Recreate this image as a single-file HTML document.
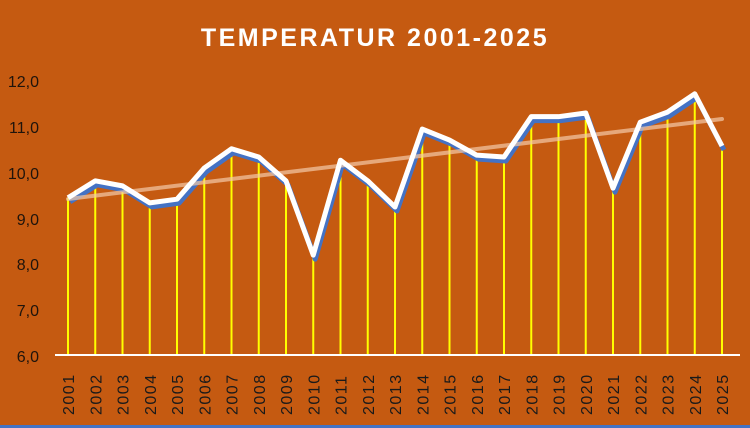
<!DOCTYPE html>
<html><head><style>body{margin:0}svg{display:block}</style></head><body>
<svg width="750" height="428" xmlns="http://www.w3.org/2000/svg" font-family="Liberation Sans, sans-serif">
<rect width="750" height="428" fill="#C55A11"/>
<rect y="425" width="750" height="3" fill="#4472C4"/>
<text x="375" y="46" text-anchor="middle" fill="#fff" font-size="25" font-weight="bold" letter-spacing="2.5">TEMPERATUR 2001-2025</text>
<g fill="#1f140c" font-size="16" text-anchor="end">
<text x="39" y="87">12,0</text><text x="39" y="133">11,0</text><text x="39" y="179">10,0</text><text x="39" y="225">9,0</text><text x="39" y="270">8,0</text><text x="39" y="316">7,0</text><text x="39" y="362">6,0</text>
</g>
<g id="d"></g>
<line x1="55" y1="355" x2="740" y2="355" stroke="#fff" stroke-width="2"/>
<script>
var v=[9.43,9.8,9.69,9.32,9.4,10.08,10.5,10.32,9.8,8.18,10.25,9.8,9.23,10.93,10.69,10.36,10.32,11.2,11.2,11.28,9.64,11.08,11.3,11.7,10.56];
var ns="http://www.w3.org/2000/svg",g=document.getElementById('d'),pts=[],pts2=[];
function X(i){return 68+i*27.25}function Y(a){return 355-(a-6)*45.83}
function el(t,a){var e=document.createElementNS(ns,t);for(var k in a)e.setAttribute(k,a[k]);g.appendChild(e);return e}
for(var i=0;i<25;i++){var x=X(i),y=Y(v[i]);pts.push(x+','+y);pts2.push((x+2)+','+(y+4));
el('line',{x1:x,y1:y,x2:x,y2:355,stroke:'#FFFF00','stroke-width':2});
var t=el('text',{x:0,y:0,transform:'translate('+(x+6)+',415) rotate(-90)',fill:'#1a1a1a','font-size':'16','letter-spacing':'1.5'});t.textContent=2001+i;}
el('polyline',{points:pts2.join(' '),fill:'none',stroke:'#4472C4','stroke-width':5,'stroke-linejoin':'round'});
el('line',{x1:68,y1:199,x2:722,y2:119,stroke:'#F4C9A8','stroke-width':4,'stroke-opacity':0.7,'stroke-linecap':'round'});
el('polyline',{points:pts.join(' '),fill:'none',stroke:'#fff','stroke-width':5,'stroke-linejoin':'round'});
</script>
</svg>
</body></html>
